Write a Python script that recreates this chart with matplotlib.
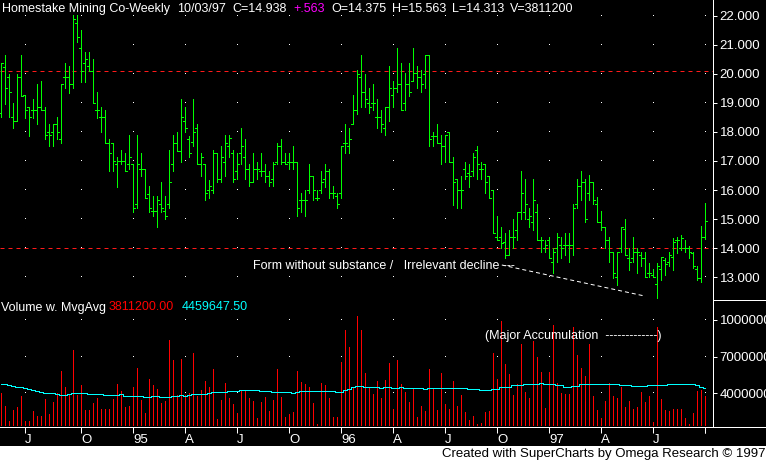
import matplotlib
matplotlib.use("Agg")
import matplotlib.pyplot as plt
from matplotlib.lines import Line2D
from matplotlib.patches import Rectangle
import numpy as np
import pandas as pd

plt.rcParams['font.family'] = ['Liberation Sans', 'DejaVu Sans']

W, H = 766, 462

# weekly bars, Friday closes, 05/20/94 .. 10/03/97
weeks = pd.date_range("1994-05-20", periods=177, freq="W-FRI")

opens = [
    18.64, 20.25, 19.88, 18.50, 18.38, 19.88, 19.27, 18.87, 18.76, 18.76,
    18.87, 18.76, 17.99, 17.99, 18.26, 17.75, 19.88, 19.88, 19.65, 21.74,
    20.88, 20.36, 20.27, 20.11, 18.76, 18.50, 18.50, 17.63, 17.63, 16.89,
    16.99, 16.99, 16.89, 16.89, 15.51, 16.74, 16.74, 15.87, 15.27, 15.27,
    15.51, 15.27, 15.51, 16.89, 17.63, 17.36, 18.36, 17.75, 17.64, 18.13,
    16.89, 16.89, 16.00, 16.00, 17.27, 16.38, 16.98, 17.50, 17.27, 16.64,
    17.27, 17.15, 16.74, 16.27, 16.74, 16.64, 16.64, 16.50, 16.37, 16.98,
    17.50, 16.98, 16.98, 16.98, 16.98, 15.64, 15.64, 16.00, 16.50, 15.74,
    16.00, 16.37, 16.64, 15.89, 15.78, 15.89, 17.63, 17.50, 18.26, 18.76,
    19.88, 19.39, 18.99, 18.99, 18.50, 18.50, 18.13, 18.87, 19.27, 19.50,
    19.65, 18.99, 19.65, 19.75, 20.02, 19.88, 19.98, 20.65, 17.86, 17.86,
    17.63, 17.50, 17.99, 16.98, 16.37, 16.00, 16.74, 16.58, 16.64, 17.38,
    16.74, 16.89, 16.50, 16.00, 14.40, 14.40, 14.20, 13.77, 14.40, 14.63,
    15.26, 15.26, 15.00, 14.89, 15.26, 14.28, 14.00, 14.28, 13.52, 14.00,
    14.11, 14.11, 14.11, 14.11, 15.51, 16.14, 16.27, 15.89, 16.27, 15.51,
    14.89, 14.74, 14.28, 13.88, 12.99, 14.00, 14.66, 13.65, 13.65, 13.88,
    13.75, 13.65, 13.14, 13.08, 12.77, 13.28, 13.60, 13.52, 13.69, 14.28,
    14.00, 14.00, 14.00, 13.83, 13.28, 12.97, 14.375,
]
highs = [
    20.36, 20.65, 19.98, 18.99, 19.98, 20.65, 19.27, 18.87, 19.12, 19.65,
    19.75, 18.87, 18.26, 18.26, 18.50, 19.65, 20.36, 20.27, 22.03, 22.03,
    21.51, 20.74, 20.74, 20.50, 19.39, 18.87, 18.76, 17.75, 17.63, 17.15,
    17.38, 17.27, 17.90, 16.89, 17.90, 17.27, 16.74, 16.14, 15.78, 15.78,
    16.28, 15.78, 17.38, 17.90, 17.99, 19.14, 18.87, 17.86, 19.14, 18.26,
    17.27, 16.89, 16.33, 17.38, 17.27, 17.50, 17.90, 17.90, 17.38, 17.27,
    18.13, 17.75, 16.89, 17.27, 16.98, 17.27, 16.89, 16.64, 16.98, 17.63,
    17.75, 17.27, 17.27, 17.50, 16.98, 15.89, 16.00, 16.89, 16.50, 16.00,
    16.64, 16.89, 16.74, 16.14, 15.89, 17.50, 18.26, 18.13, 19.27, 20.13,
    20.65, 19.98, 19.50, 19.65, 19.12, 18.76, 18.87, 20.27, 19.75, 20.88,
    20.36, 20.02, 20.36, 20.88, 20.27, 20.13, 20.65, 20.65, 17.99, 18.26,
    17.90, 17.90, 17.99, 17.15, 16.37, 16.50, 16.98, 16.89, 17.27, 17.50,
    16.98, 16.89, 16.50, 16.00, 15.12, 14.74, 14.51, 14.63, 15.00, 15.26,
    16.64, 16.37, 15.37, 16.38, 15.51, 14.40, 14.28, 14.40, 14.00, 14.51,
    14.40, 14.51, 14.51, 15.51, 16.38, 16.64, 16.38, 16.52, 16.27, 15.75,
    15.28, 14.74, 14.40, 13.88, 13.88, 14.74, 15.00, 14.00, 14.40, 14.00,
    13.88, 13.88, 13.48, 13.28, 13.48, 13.69, 13.65, 13.88, 14.34, 14.40,
    14.46, 14.28, 14.06, 13.88, 13.37, 14.77, 15.563,
]
lows = [
    18.50, 18.96, 18.50, 18.13, 18.38, 19.25, 18.49, 17.87, 18.49, 18.26,
    18.76, 17.75, 17.50, 17.50, 17.75, 17.63, 19.50, 19.35, 19.50, 21.11,
    19.73, 19.73, 20.11, 18.99, 18.49, 18.01, 17.63, 16.64, 16.64, 16.12,
    16.89, 16.64, 16.74, 15.26, 15.37, 16.50, 15.74, 15.26, 15.12, 14.74,
    15.26, 15.00, 15.37, 16.64, 17.36, 16.98, 18.01, 17.12, 17.50, 16.89,
    16.50, 15.64, 15.74, 15.89, 16.27, 16.27, 16.50, 17.12, 16.27, 16.37,
    16.89, 16.37, 16.14, 16.27, 16.37, 16.50, 16.27, 16.14, 16.14, 16.89,
    16.89, 16.89, 16.74, 16.74, 15.12, 15.26, 15.12, 15.89, 15.64, 15.64,
    15.89, 16.12, 15.74, 15.74, 15.37, 15.74, 17.27, 17.27, 18.26, 18.62,
    18.87, 18.87, 18.64, 18.76, 18.13, 18.01, 17.90, 18.36, 18.87, 19.39,
    18.76, 18.76, 19.25, 19.75, 19.50, 19.39, 19.50, 17.50, 17.50, 17.63,
    16.89, 16.98, 16.98, 15.49, 15.37, 15.37, 16.37, 16.12, 16.50, 16.37,
    16.37, 15.89, 15.74, 14.51, 14.28, 14.00, 13.65, 13.77, 14.00, 14.28,
    15.00, 15.00, 14.74, 14.63, 14.28, 13.88, 13.88, 13.65, 13.14, 13.52,
    13.65, 13.77, 13.52, 13.77, 15.37, 15.64, 14.89, 15.64, 15.51, 14.89,
    14.63, 14.00, 13.52, 12.97, 12.74, 13.88, 13.75, 13.25, 13.52, 13.14,
    13.37, 12.99, 12.99, 12.99, 12.30, 12.89, 13.06, 13.37, 13.25, 13.83,
    13.94, 13.88, 13.65, 13.31, 12.89, 12.82, 14.313,
]
closes = [
    20.36, 19.50, 19.39, 18.38, 19.88, 19.25, 18.76, 18.50, 18.76, 18.87,
    18.76, 17.89, 17.89, 18.26, 17.99, 19.65, 19.88, 19.65, 21.88, 21.26,
    20.11, 20.50, 20.11, 18.99, 18.76, 18.50, 17.63, 17.27, 16.99, 16.99,
    16.99, 16.64, 17.15, 15.37, 16.89, 16.74, 15.74, 15.37, 15.27, 15.64,
    15.37, 15.12, 16.28, 17.63, 17.36, 18.50, 18.13, 17.27, 17.99, 16.89,
    17.12, 15.89, 16.14, 17.27, 16.38, 17.15, 17.63, 17.78, 16.38, 16.89,
    17.50, 16.74, 16.27, 16.74, 16.74, 16.64, 16.50, 16.27, 16.89, 17.50,
    16.98, 16.89, 16.98, 16.98, 15.37, 15.64, 15.64, 16.50, 16.00, 15.74,
    16.27, 16.64, 15.89, 15.89, 15.51, 17.50, 17.63, 17.75, 18.76, 19.98,
    19.39, 19.12, 18.87, 18.99, 18.50, 18.26, 18.87, 19.50, 19.50, 19.65,
    18.76, 19.65, 19.39, 20.02, 19.88, 19.65, 20.65, 17.75, 17.86, 17.63,
    17.50, 17.90, 16.98, 16.27, 16.00, 16.00, 16.50, 16.50, 17.15, 16.89,
    16.74, 16.27, 15.74, 14.51, 14.28, 14.17, 13.77, 14.40, 14.40, 15.26,
    15.89, 15.51, 15.12, 15.64, 14.28, 14.28, 14.11, 13.65, 13.88, 14.40,
    14.00, 14.11, 14.11, 15.37, 16.14, 16.27, 15.00, 16.27, 15.66, 14.89,
    14.74, 14.28, 13.88, 13.14, 13.88, 14.74, 13.75, 13.52, 13.88, 13.88,
    13.65, 12.99, 13.14, 12.99, 13.37, 13.69, 13.46, 13.77, 14.20, 14.28,
    14.34, 14.00, 13.88, 13.37, 12.97, 14.38, 14.938,
]
# volume in millions of shares
volume = [
    4.00, 2.96, 1.74, 2.64, 2.88, 3.78, 1.74, 1.74, 2.55, 2.15,
    2.15, 3.54, 2.31, 3.29, 4.00, 5.83, 4.52, 3.86, 7.54, 3.86,
    4.68, 2.64, 2.64, 3.21, 3.62, 2.72, 2.72, 2.72, 3.54, 4.76,
    4.19, 2.88, 2.96, 4.52, 6.07, 3.45, 2.39, 5.17, 4.68, 4.35,
    3.21, 3.37, 8.36, 6.73, 3.86, 6.81, 3.86, 4.03, 7.30, 3.78,
    4.27, 5.01, 4.52, 5.99, 1.90, 3.45, 4.85, 3.62, 3.13, 2.39,
    4.27, 4.19, 3.62, 3.37, 1.98, 3.29, 3.70, 2.55, 3.45, 5.99,
    3.70, 2.06, 2.31, 2.47, 5.83, 4.93, 4.76, 4.52, 3.21, 1.49,
    4.85, 4.68, 3.62, 2.06, 2.06, 6.56, 9.18, 7.79, 4.44, 10.33,
    9.18, 5.66, 4.44, 3.95, 5.01, 3.62, 5.09, 6.48, 2.72, 6.73,
    4.76, 4.11, 3.29, 4.35, 2.06, 2.96, 2.55, 5.99, 4.35, 2.64,
    5.66, 3.13, 2.72, 5.01, 2.96, 3.86, 2.47, 1.82, 2.15, 1.45,
    1.57, 2.47, 2.55, 7.30, 5.17, 9.92, 6.40, 5.58, 3.86, 4.76,
    8.04, 4.11, 3.62, 8.28, 6.97, 5.75, 2.80, 5.75, 9.59, 4.85,
    4.03, 3.95, 3.95, 9.43, 7.14, 6.07, 5.39, 8.04, 3.78, 2.64,
    1.98, 3.37, 4.85, 3.78, 3.62, 4.52, 2.88, 3.37, 2.72, 2.88,
    4.11, 3.29, 3.78, 1.65, 9.43, 3.54, 2.64, 2.55, 2.72, 2.72,
    2.72, 1.98, 1.49, 2.39, 4.19, 4.27, 3.8112,
]
vol_avg = [
    4.74, 4.74, 4.65, 4.57, 4.49, 4.49, 4.41, 4.33, 4.25, 4.16,
    4.08, 4.00, 4.00, 4.00, 3.92, 3.84, 3.84, 3.92, 4.00, 4.00,
    4.00, 4.00, 3.92, 3.92, 3.92, 3.92, 3.84, 3.84, 3.84, 3.84,
    3.92, 3.78, 3.78, 3.78, 3.78, 3.78, 3.70, 3.70, 3.78, 3.78,
    3.70, 3.70, 3.70, 3.78, 3.78, 3.84, 3.78, 3.84, 3.92, 3.92,
    3.92, 3.92, 4.00, 4.08, 4.08, 4.08, 4.08, 4.16, 4.16, 4.16,
    4.25, 4.25, 4.25, 4.25, 4.25, 4.16, 4.16, 4.16, 4.08, 4.08,
    4.08, 4.08, 4.08, 4.00, 4.08, 4.16, 4.16, 4.16, 4.16, 4.16,
    4.16, 4.16, 4.16, 4.16, 4.08, 4.08, 4.25, 4.33, 4.49, 4.57,
    4.57, 4.49, 4.49, 4.49, 4.49, 4.41, 4.49, 4.49, 4.41, 4.41,
    4.49, 4.41, 4.41, 4.41, 4.41, 4.41, 4.33, 4.41, 4.41, 4.41,
    4.41, 4.41, 4.41, 4.41, 4.41, 4.41, 4.41, 4.33, 4.33, 4.33,
    4.25, 4.25, 4.25, 4.33, 4.33, 4.49, 4.49, 4.49, 4.65, 4.65,
    4.65, 4.74, 4.74, 4.74, 4.74, 4.82, 4.74, 4.74, 4.74, 4.65,
    4.65, 4.49, 4.49, 4.57, 4.57, 4.74, 4.74, 4.74, 4.74, 4.74,
    4.74, 4.74, 4.74, 4.74, 4.74, 4.65, 4.65, 4.65, 4.60, 4.60,
    4.60, 4.60, 4.65, 4.65, 4.65, 4.65, 4.65, 4.74, 4.74, 4.74,
    4.74, 4.74, 4.74, 4.74, 4.65, 4.49, 4.46,
]
marked_levels = [20.1, 14.0]   # red dashed lines drawn on the chart
price_ticks = list(range(13, 23))
volume_ticks = [4000000, 7000000, 10000000]
vol_floor = 1.40   # volume scale starts at the smallest week, in millions
month_letter = {4: "A", 7: "J", 10: "O"}

idx = np.arange(len(weeks))
vol = np.array(volume) * 1e6
avg = np.array(vol_avg) * 1e6

# quarter ticks: first bar of Jan/Apr/Jul/Oct, plus the last bar
q_idx, q_lab = [], []
for i in range(1, len(weeks)):
    m = weeks[i].month
    if m != weeks[i - 1].month and m in (1, 4, 7, 10):
        q_idx.append(i)
        q_lab.append(f"{weeks[i].year % 100:02d}" if m == 1 else month_letter[m])
q_idx.append(idx[-1])
q_lab.append("")

GREEN = "#00ff00"
PX = 0.72   # one pixel in points
FS = 9      # chart texts
FS_AX = 9.5  # axis labels and footer


def fx(px):
    return px / W


def fy(py):
    return 1 - py / H


fig = plt.figure(figsize=(W / 100, H / 100), dpi=100, facecolor="black")
ax = fig.add_axes([0, fy(299), fx(713), 299 / H], facecolor="black")
axv = fig.add_axes([0, fy(427), fx(713), 127 / H], facecolor="black")

# ---- price panel
for lvl in marked_levels:
    ax.axhline(lvl, color="#ff1a1a", lw=PX, dashes=(4, 4), zorder=1)

gx, gy = np.meshgrid(q_idx, price_ticks)
ax.plot(gx.ravel(), gy.ravel(), linestyle="none", marker=",", color="white", zorder=1)

ax.vlines(idx, lows, highs, colors=GREEN, lw=PX, antialiased=False, zorder=2)
ax.hlines(opens, idx - 0.5, idx, colors=GREEN, lw=PX, antialiased=False, zorder=2)
ax.hlines(closes, idx, idx + 0.5, colors=GREEN, lw=PX, antialiased=False, zorder=2)

ax.text(63, 13.275, "Form without substance /   Irrelevant decline ---",
        color="white", fontsize=FS, va="baseline", ha="left")
ax.plot([125.2, 161], [13.42, 12.35], color="white", lw=PX, dashes=(4, 3))

ax.set_xlim(-0.25, 178)
ax.set_ylim(12.25, 22.54)
ax.set_xticks([])
ax.yaxis.tick_right()
ax.set_yticks(price_ticks)
ax.set_yticklabels([f"{v:.3f}" for v in price_ticks])

# ---- volume panel
gx, gy = np.meshgrid(q_idx, volume_ticks)
axv.plot(gx.ravel(), gy.ravel(), linestyle="none", marker=",", color="white", zorder=1)
axv.vlines(idx, vol_floor * 1e6, vol, colors="#ff0000", lw=PX, antialiased=False, zorder=2)
axv.step(idx, avg, where="mid", color="#00ffff", lw=PX, antialiased=False, zorder=3)
axv.text(121, 8.48e6, "(Major Accumulation  -------------)", color="white",
         fontsize=FS, va="baseline", ha="left", zorder=4)

axv.set_xlim(-0.25, 178)
axv.set_ylim(1.242e6, 11.635e6)
axv.yaxis.tick_right()
axv.set_yticks(volume_ticks)
axv.set_yticklabels([str(v) for v in volume_ticks])
axv.set_xticks(q_idx)
axv.set_xticklabels(q_lab, ha="left")

for a in (ax, axv):
    for s in ("top", "left", "bottom"):
        a.spines[s].set_visible(False)
    a.spines["right"].set_color("white")
    a.spines["right"].set_linewidth(PX)
    a.tick_params(axis="y", colors="white", length=4 * PX, width=PX, pad=2, labelsize=FS_AX)
axv.tick_params(axis="x", colors="white", length=6 * PX, width=PX, pad=0.5, labelsize=FS_AX)

# frame lines outside the axes
fig.add_artist(Line2D([0, 1], [fy(427), fy(427)], color="white", lw=PX))
fig.add_artist(Line2D([fx(713), 1], [fy(300), fy(300)], color="white", lw=PX))
fig.add_artist(Line2D([fx(713), fx(713)], [fy(299), fy(300)], color="white", lw=PX))

# ---- header line
hdr = [
    (2, "Homestake Mining Co-Weekly", "white"),
    (177, "10/03/97", "white"),
    (232, "C=14.938", "white"),
    (293, "+.563", "#ff00ff"),
    (331, "O=14.375", "white"),
    (392, "H=15.563", "white"),
    (452, "L=14.313", "white"),
    (510, "V=3811200", "white"),
]
for x, s, c in hdr:
    fig.text(fx(x), fy(12), s, color=c, fontsize=FS, va="baseline", ha="left")

vhdr = [
    (1, "Volume w. MvgAvg", "white"),
    (109, "3811200.00", "#ff0000"),
    (182, "4459647.50", "#00ffff"),
]
for x, s, c in vhdr:
    fig.text(fx(x), fy(310.5), s, color=c, fontsize=FS, va="baseline", ha="left")

# ---- footer strip
fig.add_artist(Rectangle((0, 0), 1, 16 / H, transform=fig.transFigure,
                         facecolor="white", edgecolor="none"))
fig.text(fx(765), fy(456.5), "Created with SuperCharts by Omega Research \u00a9 1997",
         color="black", fontsize=FS_AX, va="baseline", ha="right")

fig.savefig("out.png", dpi=100, facecolor="black")
